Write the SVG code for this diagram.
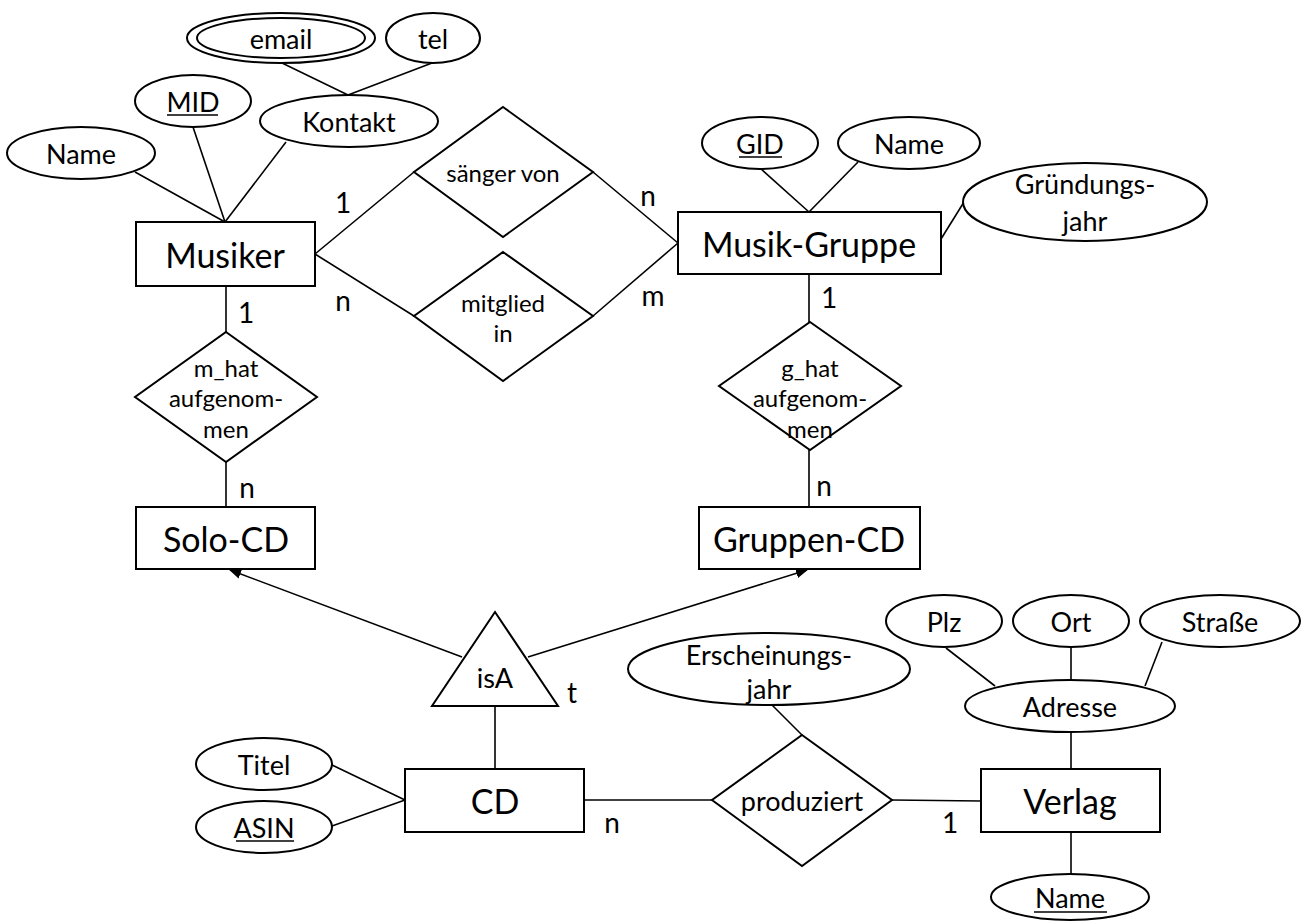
<svg xmlns="http://www.w3.org/2000/svg" width="1305" height="922" viewBox="0 0 1305 922">
<style>
.s{fill:#fff;stroke:#000;stroke-width:2}
.c{stroke:#000;stroke-width:1.6;fill:none}
.u{stroke:#000;stroke-width:1.5}
text{font-family:Lato,"Liberation Sans",sans-serif;text-anchor:middle;dominant-baseline:central;fill:#000}
.big{font-size:34px}
.att{font-size:27px}
.rel{font-size:24px}
.mid{font-size:27px}
.card{font-size:28px}
</style>
<defs>
<marker id="arr" markerUnits="userSpaceOnUse" markerWidth="12" markerHeight="10" refX="11" refY="5" orient="auto">
<path d="M0,0 L12,5 L0,10 z" fill="#000"/>
</marker>
</defs>
<rect width="1305" height="922" fill="#fff"/>
<g id="connectors">
<line class="c" x1="135" y1="172" x2="225" y2="222"/>
<line class="c" x1="193" y1="127" x2="225" y2="222"/>
<line class="c" x1="286" y1="142" x2="225" y2="222"/>
<line class="c" x1="282" y1="63" x2="348" y2="95"/>
<line class="c" x1="432" y1="63" x2="348" y2="95"/>
<line class="c" x1="315" y1="254" x2="414" y2="172"/>
<line class="c" x1="315" y1="254" x2="414" y2="316"/>
<line class="c" x1="593" y1="172" x2="678" y2="243"/>
<line class="c" x1="593" y1="316" x2="678" y2="243"/>
<line class="c" x1="761" y1="169" x2="809" y2="212"/>
<line class="c" x1="858" y1="162" x2="809" y2="212"/>
<line class="c" x1="964" y1="202" x2="941" y2="239"/>
<line class="c" x1="809" y1="274" x2="809" y2="322"/>
<line class="c" x1="809" y1="450" x2="809" y2="507"/>
<line class="c" x1="226" y1="286" x2="226" y2="332"/>
<line class="c" x1="226" y1="462" x2="226" y2="507"/>
<line class="c" x1="462" y1="657" x2="230" y2="570" marker-end="url(#arr)"/>
<line class="c" x1="528" y1="657" x2="807" y2="570" marker-end="url(#arr)"/>
<line class="c" x1="495" y1="706" x2="495" y2="769"/>
<line class="c" x1="332" y1="765" x2="405" y2="800"/>
<line class="c" x1="332" y1="826" x2="405" y2="800"/>
<line class="c" x1="584" y1="800" x2="712" y2="800"/>
<line class="c" x1="892" y1="800" x2="981" y2="801"/>
<line class="c" x1="772" y1="705" x2="802" y2="735"/>
<line class="c" x1="1071" y1="732" x2="1071" y2="769"/>
<line class="c" x1="946" y1="648" x2="995" y2="686"/>
<line class="c" x1="1071" y1="647" x2="1071" y2="680"/>
<line class="c" x1="1162" y1="642" x2="1145" y2="686"/>
<line class="c" x1="1071" y1="832" x2="1071" y2="875"/>
</g>
<g id="cardinalities">
<text class="card" x="343" y="202">1</text>
<text class="card" x="343" y="300">n</text>
<text class="card" x="648" y="195">n</text>
<text class="card" x="653" y="295">m</text>
<text class="card" x="829" y="297">1</text>
<text class="card" x="246" y="312">1</text>
<text class="card" x="247" y="487">n</text>
<text class="card" x="824" y="485">n</text>
<text class="card" x="572" y="692">t</text>
<text class="card" x="612" y="822">n</text>
<text class="card" x="950" y="822">1</text>
</g>
<g id="email">
<ellipse class="s" cx="281" cy="38" rx="94" ry="25"/>
<ellipse class="s" cx="281" cy="38" rx="84" ry="20"/>
<text class="att" x="281" y="38">email</text>
</g>
<g id="tel">
<ellipse class="s" cx="433" cy="38" rx="47" ry="25"/>
<text class="att" x="433" y="38">tel</text>
</g>
<g id="mid">
<ellipse class="s" cx="193" cy="101" rx="58" ry="26"/>
<text class="att" x="193" y="101">MID</text>
<line class="u" x1="167" y1="115" x2="218" y2="115"/>
</g>
<g id="kontakt">
<ellipse class="s" cx="349" cy="121" rx="89" ry="26"/>
<text class="att" x="349" y="121">Kontakt</text>
</g>
<g id="musiker-name">
<ellipse class="s" cx="81" cy="153" rx="74" ry="26"/>
<text class="att" x="81" y="153">Name</text>
</g>
<g id="musiker">
<rect class="s" x="136" y="222" width="179" height="64"/>
<text class="big" x="225" y="254">Musiker</text>
</g>
<g id="saenger-von">
<polygon class="s" points="503,107 593,172 503,237 414,172"/>
<text class="rel" x="503" y="172">sänger von</text>
</g>
<g id="mitglied-in">
<polygon class="s" points="503,252 593,316 503,381 414,316"/>
<text class="rel" x="503" y="302">mitglied</text>
<text class="rel" x="503" y="332">in</text>
</g>
<g id="gid">
<ellipse class="s" cx="760" cy="143" rx="58" ry="26"/>
<text class="att" x="760" y="143">GID</text>
<line class="u" x1="739" y1="157" x2="782" y2="157"/>
</g>
<g id="gruppe-name">
<ellipse class="s" cx="909" cy="143" rx="71" ry="26"/>
<text class="att" x="909" y="143">Name</text>
</g>
<g id="gruendungsjahr">
<ellipse class="s" cx="1085" cy="202" rx="122" ry="39"/>
<text class="att" x="1085" y="183">Gründungs-</text>
<text class="att" x="1085" y="220">jahr</text>
</g>
<g id="musik-gruppe">
<rect class="s" x="678" y="212" width="263" height="62"/>
<text class="big" x="809" y="243">Musik-Gruppe</text>
</g>
<g id="m-hat-aufgenommen">
<polygon class="s" points="226,332 317,397 226,462 135,397"/>
<text class="rel" x="226" y="367">m_hat</text>
<text class="rel" x="226" y="397">aufgenom-</text>
<text class="rel" x="226" y="428">men</text>
</g>
<g id="g-hat-aufgenommen">
<polygon class="s" points="810,322 901,386 810,450 719,386"/>
<text class="rel" x="810" y="367">g_hat</text>
<text class="rel" x="810" y="397">aufgenom-</text>
<text class="rel" x="810" y="428">men</text>
</g>
<g id="solo-cd">
<rect class="s" x="136" y="507" width="179" height="62"/>
<text class="big" x="226" y="538">Solo-CD</text>
</g>
<g id="gruppen-cd">
<rect class="s" x="699" y="507" width="221" height="62"/>
<text class="big" x="809" y="538">Gruppen-CD</text>
</g>
<g id="isa">
<polygon class="s" points="495,612 558,706 432,706"/>
<text class="mid" x="495" y="677">isA</text>
</g>
<g id="titel">
<ellipse class="s" cx="264" cy="764" rx="68" ry="26"/>
<text class="att" x="264" y="764">Titel</text>
</g>
<g id="asin">
<ellipse class="s" cx="264" cy="827" rx="68" ry="26"/>
<text class="att" x="264" y="827">ASIN</text>
<line class="u" x1="236" y1="841" x2="294" y2="841"/>
</g>
<g id="cd">
<rect class="s" x="405" y="769" width="179" height="63"/>
<text class="big" x="495" y="800">CD</text>
</g>
<g id="erscheinungsjahr">
<ellipse class="s" cx="769" cy="669" rx="141" ry="36"/>
<text class="att" x="769" y="654">Erscheinungs-</text>
<text class="att" x="769" y="688">jahr</text>
</g>
<g id="produziert">
<polygon class="s" points="802,735 892,800 802,866 712,800"/>
<text class="mid" x="802" y="800">produziert</text>
</g>
<g id="plz">
<ellipse class="s" cx="944" cy="621" rx="58" ry="26"/>
<text class="att" x="944" y="621">Plz</text>
</g>
<g id="ort">
<ellipse class="s" cx="1071" cy="621" rx="58" ry="26"/>
<text class="att" x="1071" y="621">Ort</text>
</g>
<g id="strasse">
<ellipse class="s" cx="1220" cy="621" rx="80" ry="26"/>
<text class="att" x="1220" y="621">Straße</text>
</g>
<g id="adresse">
<ellipse class="s" cx="1070" cy="706" rx="105" ry="26"/>
<text class="att" x="1070" y="706">Adresse</text>
</g>
<g id="verlag">
<rect class="s" x="981" y="769" width="179" height="63"/>
<text class="big" x="1070" y="800">Verlag</text>
</g>
<g id="verlag-name">
<ellipse class="s" cx="1070" cy="897" rx="79" ry="23"/>
<text class="att" x="1070" y="897">Name</text>
<line class="u" x1="1034" y1="912" x2="1107" y2="912"/>
</g>
</svg>
